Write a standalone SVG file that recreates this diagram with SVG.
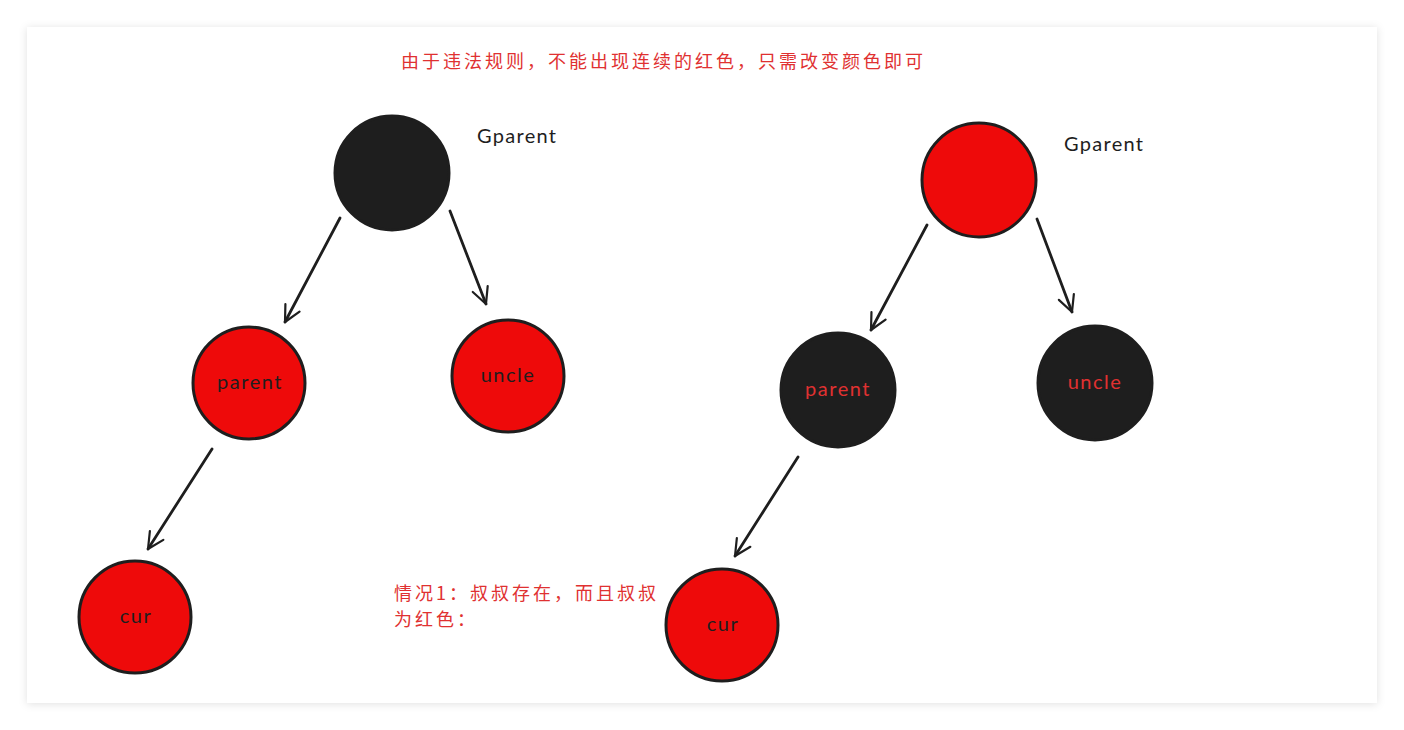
<svg xmlns="http://www.w3.org/2000/svg" width="1404" height="730" viewBox="0 0 1404 730">
<defs>
<filter id="sh" x="-5%" y="-5%" width="110%" height="110%"><feDropShadow dx="0" dy="1" stdDeviation="4" flood-color="#000" flood-opacity="0.12"/></filter>
<marker id="ah" viewBox="0 0 20 20" refX="18" refY="10" markerWidth="20" markerHeight="20" markerUnits="userSpaceOnUse" orient="auto"><path d="M2,2 L18,10 L2,18" fill="none" stroke="#1e1e1e" stroke-width="2.2" stroke-linecap="round" stroke-linejoin="round"/></marker>
</defs>
<style>
.red{fill:#ee0a0a;stroke:#1e1e1e;stroke-width:3}
.blk{fill:#1e1e1e;stroke:#1e1e1e;stroke-width:3}
.lbl{font-family:"Lato","Liberation Sans",sans-serif;font-size:20px;letter-spacing:1.5px;text-anchor:middle}
.dk{fill:#1e1e1e}
.rd{fill:#e03131}
.note{font-family:"Noto Sans CJK SC","Noto Sans",sans-serif;font-size:18px;letter-spacing:3px;fill:#e03131}
.gp{font-family:"Lato","Liberation Sans",sans-serif;font-size:20px;letter-spacing:1.3px;fill:#1e1e1e}
.edge{stroke:#1e1e1e;stroke-width:2.8;fill:none;stroke-linecap:round;marker-end:url(#ah)}
</style>
<rect width="1404" height="730" fill="#fff"/>
<rect x="27" y="27" width="1350" height="676" fill="#fff" filter="url(#sh)"/>
<text class="note" x="401" y="68">由于违法规则，不能出现连续的红色，只需改变颜色即可</text>
<text class="note" x="394" y="600">情况1：叔叔存在，而且叔叔</text>
<text class="note" x="394" y="626">为红色：</text>
<g id="connectors">
<line class="edge" x1="340" y1="218" x2="285" y2="322"/>
<line class="edge" x1="450" y1="211" x2="486" y2="304"/>
<line class="edge" x1="212" y1="449" x2="148" y2="549"/>
<line class="edge" x1="927" y1="225" x2="871" y2="330"/>
<line class="edge" x1="1037" y1="219" x2="1072" y2="312"/>
<line class="edge" x1="798" y1="457" x2="735" y2="556"/>
</g>
<g id="l-gparent"><circle class="blk" cx="392" cy="173" r="57"/><text class="gp" x="477" y="143">Gparent</text></g>
<g id="l-parent"><circle class="red" cx="249" cy="383" r="56"/><text class="lbl dk" x="250" y="389">parent</text></g>
<g id="l-uncle"><circle class="red" cx="508" cy="376" r="56"/><text class="lbl dk" x="508" y="382">uncle</text></g>
<g id="l-cur"><circle class="red" cx="135" cy="617" r="56"/><text class="lbl dk" x="136" y="623">cur</text></g>
<g id="r-gparent"><circle class="red" cx="979" cy="180" r="57"/><text class="gp" x="1064" y="151">Gparent</text></g>
<g id="r-parent"><circle class="blk" cx="838" cy="390" r="57"/><text class="lbl rd" x="838" y="396">parent</text></g>
<g id="r-uncle"><circle class="blk" cx="1095" cy="383" r="57"/><text class="lbl rd" x="1095" y="389">uncle</text></g>
<g id="r-cur"><circle class="red" cx="722" cy="625" r="56"/><text class="lbl dk" x="723" y="631">cur</text></g>
</svg>
